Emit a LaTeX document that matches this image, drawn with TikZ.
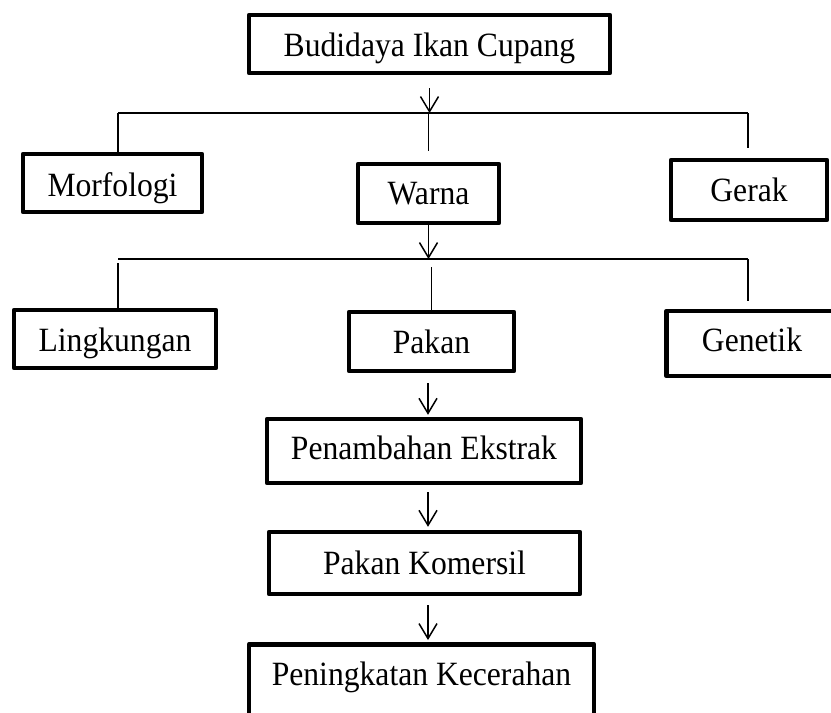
\documentclass[tikz,border=0pt]{standalone}
\usepackage{fontspec}
\setmainfont[FakeStretch=0.93]{Liberation Serif}
\usetikzlibrary{arrows.meta,calc}

\tikzset{
  kotak/.style={draw, line width=4.5pt, line join=round, inner sep=0pt,
    text height=29pt, text depth=7pt, font=\fontsize{34}{40}\selectfont},
  garis/.style={line width=1.5pt},
  panah/.style={garis, -{Straight Barb[length=15pt,width=18pt]}}
}

\begin{document}
\begin{tikzpicture}[x=1pt,y=-1pt]
\useasboundingbox (0,0) rectangle (831,713);
\clip (0,0) rectangle (831,713);

% kotak
\node[kotak, minimum width=361pt, minimum height=58pt, text height=32pt] (budidaya) at (429.5,44) {Budidaya Ikan Cupang};
\node[kotak, minimum width=179pt, minimum height=58pt, text height=33pt] (morf) at (112.5,183) {Morfologi};
\node[kotak, minimum width=141pt, minimum height=59pt] (warna) at (428.5,193.5) {Warna};
\node[kotak, minimum width=156pt, minimum height=60pt, text height=30pt] (gerak) at (749,190) {Gerak};
\node[kotak, minimum width=202pt, minimum height=58pt, text height=32pt] (lingk) at (115,339) {Lingkungan};
\node[kotak, minimum width=165pt, minimum height=59pt, text height=30pt] (pakan) at (431.5,341.5) {Pakan};
\node[kotak, minimum width=171pt, minimum height=65pt, text height=23pt] (genetik) at (752,343.5) {Genetik};
\node[kotak, minimum width=314pt, minimum height=64pt, text height=23pt] (tambah) at (424,451) {Penambahan Ekstrak};
\node[kotak, minimum width=311pt, minimum height=62pt] (komersil) at (424.5,563) {Pakan Komersil};
\node[kotak, minimum width=345pt, minimum height=110pt, text depth=57pt, anchor=north] (tingkat) at (421.5,642) {Peningkatan Kecerahan};

% garis cabang 1
\coordinate (a1l) at (118,113);
\coordinate (a1r) at (748,113);
\draw[panah] ($(budidaya.south)+(0,13)$) -- (budidaya.south |- a1l);
\draw[garis] (a1l) -- (a1r);
\draw[garis] (a1l) -- (a1l |- morf.north);
\draw[garis] (warna.north |- a1l) -- ($(warna.north)+(0,-11)$);
\draw[garis] (a1r) -- ($(a1r |- gerak.north)+(0,-10)$);

% garis cabang 2
\coordinate (b2l) at (118,259);
\coordinate (b2r) at (748,259);
\draw[panah] (warna.south) -- (warna.south |- b2l);
\draw[garis] (b2l) -- (b2r);
\draw[garis] ($(b2l)+(0,4)$) -- (b2l |- lingk.north);
\draw[garis] ($(pakan.north |- b2l)+(0,8)$) -- (pakan.north);
\draw[garis] (b2r) -- ($(b2r |- genetik.north)+(0,-8)$);

% alur pakan
\draw[panah] ($(pakan.south)+(-3.5,10)$) -- ($(pakan.south |- tambah.north)+(-3.5,-2)$);
\draw[panah] ($(tambah.south)+(4,7)$) -- ($(tambah.south |- komersil.north)+(4,-3)$);
\draw[panah] ($(komersil.south)+(3.5,9)$) -- ($(komersil.south |- tingkat.north)+(3.5,-2)$);
\end{tikzpicture}
\end{document}
